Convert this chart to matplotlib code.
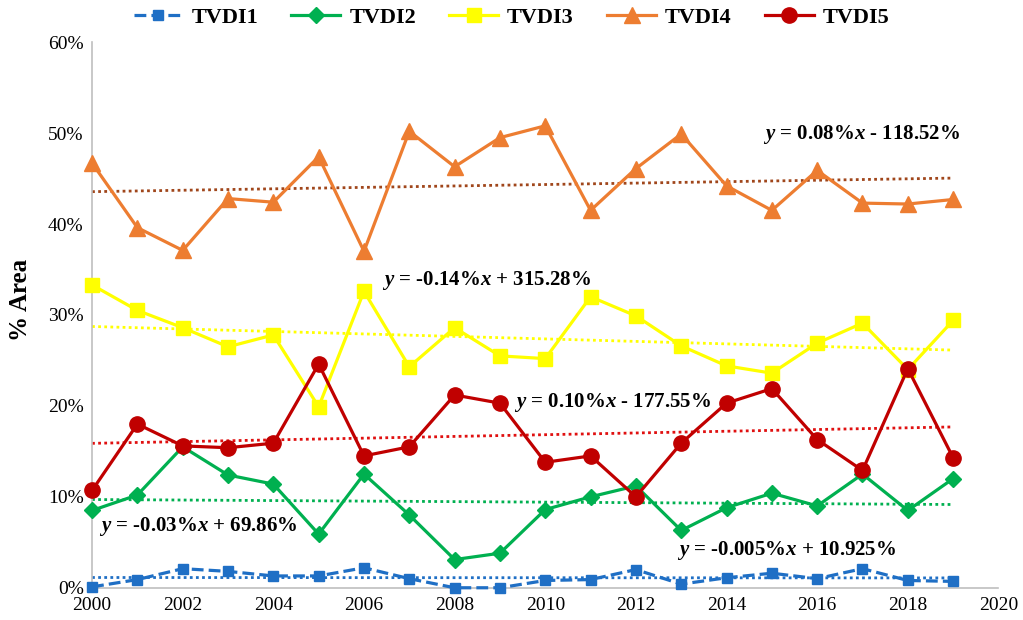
import matplotlib.pyplot as plt
import numpy as np

plt.rcParams['font.family'] = 'Liberation Serif'
plt.rcParams['mathtext.fontset'] = 'custom'
plt.rcParams['mathtext.rm'] = 'Liberation Serif:bold'
plt.rcParams['mathtext.it'] = 'Liberation Serif:italic:bold'

# data (% area)
years = list(range(2000, 2020))
tvdi1 = [0.1, 0.9, 2.1, 1.8, 1.3, 1.3, 2.2, 1.0, 0.0, 0.0,
         0.8, 0.9, 2.0, 0.4, 1.1, 1.6, 1.0, 2.1, 0.8, 0.7]
tvdi2 = [8.5, 10.2, 15.5, 12.4, 11.4, 5.9, 12.5, 8.0, 3.1, 3.8,
         8.6, 10.0, 11.2, 6.3, 8.8, 10.4, 9.0, 12.5, 8.5, 12.0]
tvdi3 = [33.3, 30.5, 28.6, 26.5, 27.8, 19.9, 32.6, 24.3, 28.6, 25.5,
         25.2, 32.0, 29.9, 26.6, 24.4, 23.6, 26.9, 29.1, 24.0, 29.4]
tvdi4 = [46.7, 39.6, 37.1, 42.8, 42.4, 47.4, 37.0, 50.2, 46.3, 49.5,
         50.8, 41.5, 46.1, 49.9, 44.2, 41.5, 45.9, 42.3, 42.2, 42.7]
tvdi5 = [10.7, 18.0, 15.6, 15.4, 15.9, 24.6, 14.5, 15.5, 21.2, 20.3,
         13.8, 14.5, 10.0, 15.9, 20.3, 21.9, 16.3, 12.9, 24.1, 14.3]

names = ['TVDI1', 'TVDI2', 'TVDI3', 'TVDI4', 'TVDI5']
series = [tvdi1, tvdi2, tvdi3, tvdi4, tvdi5]
colors = ['#1F6FC5', '#00B050', '#FFFF00', '#ED7D31', '#C00000']
trend_colors = ['#1F6FC5', '#00B050', '#FFFF00', '#A0461B', '#E01010']
markers = ['s', 'D', 's', '^', 'o']
msizes = [7, 8, 9.5, 11, 11]
styles = ['--', '-', '-', '-', '-']

equations = [r'$y$ = -0.005%$x$ + 10.925%', r'$y$ = -0.03%$x$ + 69.86%',
             r'$y$ = -0.14%$x$ + 315.28%', r'$y$ = 0.08%$x$ - 118.52%',
             r'$y$ = 0.10%$x$ - 177.55%']
eq_pos = [(2012.9, 4.1, 'left'), (2000.15, 6.7, 'left'), (2006.4, 33.8, 'left'),
          (2019.15, 49.8, 'right'), (2009.3, 20.4, 'left')]

fig = plt.figure(figsize=(10.23, 6.2), dpi=100)
ax = fig.add_axes([0.090, 0.052, 0.886, 0.880])

x = np.array(years)
for s, name, c, tc, m, ms, ls in zip(series, names, colors, trend_colors,
                                     markers, msizes, styles):
    ax.plot(x, s, linestyle=ls, color=c, marker=m, markersize=ms, lw=2.3,
            label=name, clip_on=False, zorder=3)
    # linear trend line, as in the spreadsheet chart
    k, b = np.polyfit(x, s, 1)
    ax.plot(x, k * x + b, linestyle=(0, (1, 1.2)), color=tc, lw=2, zorder=2)

for txt, (tx, ty, ha) in zip(equations, eq_pos):
    ax.text(tx, ty, txt, fontsize=15, fontweight='bold', ha=ha, va='center',
            zorder=4)

ax.set_xlim(2000, 2020)
ax.set_ylim(0, 60)
ax.set_xticks(range(2000, 2021, 2))
ax.set_yticks(range(0, 61, 10))
ax.set_yticklabels([f'{v}%' for v in range(0, 61, 10)])
ax.tick_params(axis='y', length=0, labelsize=14, pad=6)
ax.tick_params(axis='x', length=0, labelsize=14, pad=7)
ax.set_ylabel('% Area', fontsize=18, fontweight='bold')
ax.yaxis.set_label_coords(-0.066, 0.527)
for side in ['top', 'right']:
    ax.spines[side].set_visible(False)
for side in ['left', 'bottom']:
    ax.spines[side].set_color('#BFBFBF')
    ax.spines[side].set_linewidth(1.2)

fig.legend(loc='upper center', bbox_to_anchor=(0.5, 1.02), ncol=5, frameon=False,
           prop={'weight': 'bold', 'size': 16}, handlelength=2.2,
           columnspacing=1.5, handletextpad=0.4)

plt.savefig('out.png', dpi=100)
